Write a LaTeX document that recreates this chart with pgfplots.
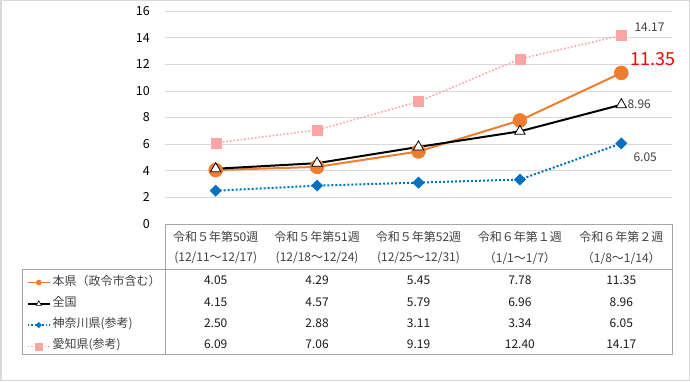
\documentclass[border=0pt]{standalone}
\usepackage{pgfplots}
\pgfplotsset{compat=1.18}
\usepackage{pgfplotstable}
\usepackage{fontspec}
\setmainfont{Noto Sans CJK JP}
\definecolor{cOrange}{HTML}{ED7D31}
\definecolor{cBlue}{HTML}{0070C0}
\definecolor{cPink}{HTML}{FBA5A5}
\definecolor{cGrid}{HTML}{D9D9D9}
\definecolor{cTab}{HTML}{A6A6A6}
\definecolor{cText}{HTML}{404040}

\pgfplotstableread{
x honken zenkoku kanagawa aichi
0 4.05 4.15 2.50 6.09
1 4.29 4.57 2.88 7.06
2 5.45 5.79 3.11 9.19
3 7.78 6.96 3.34 12.40
4 11.35 8.96 6.05 14.17
}\datatable

\begin{document}
\fontsize{12bp}{14bp}\selectfont
\begin{tikzpicture}[x=1bp,y=1bp]
\useasboundingbox (0,0) rectangle (690,381);
\draw[cGrid, line width=1.5bp] (0.75,0.75) rectangle (689.25,380.25);
\begin{axis}[
  at={(165bp,157bp)}, anchor=south west,
  scale only axis, width=507bp, height=213bp,
  xmin=-0.5, xmax=4.5, ymin=0, ymax=16,
  ytick={0,2,...,16}, xtick=\empty,
  ymajorgrids, grid style={cGrid, line width=0.75bp},
  axis line style={draw=none},
  major tick length=0pt,
  yticklabel style={inner sep=0pt, xshift=-15bp, font=\fontsize{12.5bp}{14bp}\selectfont, text=black},
  /pgf/number format/assume math mode=true,
  clip=false,
  legend cell align=left,
  legend style={at={(axis description cs:-0.2722,-0.2465)}, anchor=north west,
    draw=none, fill=none, inner sep=0pt, outer sep=0pt,
    row sep=9.3bp, column sep=2bp,
    font=\fontsize{12bp}{14bp}\selectfont, text=cText,
    nodes={inner sep=0pt, text height=8.5bp, text depth=3.5bp}},
  legend image code/.code={\draw[mark repeat=2,mark phase=2] plot coordinates {(0bp,0bp)(11bp,0bp)(22bp,0bp)};},
]
\addplot[forget plot, cOrange, line width=2bp, mark=*, mark size=7bp, mark options={fill=cOrange, line width=0.5bp}] table[x=x,y=honken]{\datatable};
\addplot[forget plot, black, line width=2bp, mark=triangle*, mark size=6bp, mark options={fill=white, line width=0.8bp}] table[x=x,y=zenkoku]{\datatable};
\addplot[forget plot, cBlue, line width=2bp, dotted, mark=square*, mark size=4bp, mark options={solid, rotate=45, fill=cBlue, line width=0.4bp}] table[x=x,y=kanagawa]{\datatable};
\addplot[forget plot, cPink, line width=1.6bp, dotted, mark=square*, mark size=5bp, mark options={solid, fill=cPink, line width=0.4bp}] table[x=x,y=aichi]{\datatable};

\addlegendimage{cOrange, line width=1.6bp, mark=*, mark size=2.6bp, mark options={fill=cOrange, line width=0.4bp}}
\addlegendentry{本県（政令市含む）}
\addlegendimage{black, line width=1.6bp, mark=triangle*, mark size=3bp, mark options={fill=white, line width=0.6bp}}
\addlegendentry{全国}
\addlegendimage{cBlue, line width=1.6bp, dotted, mark=square*, mark size=2bp, mark options={solid, rotate=45, fill=cBlue, line width=0.3bp}}
\addlegendentry{神奈川県(参考)}
\addlegendimage{cPink, line width=1.4bp, dotted, mark=square*, mark size=3.5bp, mark options={solid, fill=cPink, line width=0.3bp}}
\addlegendentry{愛知県(参考)}

\node[anchor=west, text=cText, xshift=9bp, yshift=8.5bp] at (axis cs:4,14.17) {14.17};
\node[anchor=west, text=red, xshift=5bp, yshift=14bp, font=\fontsize{18bp}{20bp}\selectfont] at (axis cs:4,11.35) {11.35};
\node[anchor=west, text=cText, xshift=6bp, inner sep=0pt] at (axis cs:4,8.96) {8.96};
\node[anchor=west, text=cText, xshift=8bp, yshift=-13.5bp] at (axis cs:4,6.05) {6.05};
\end{axis}

% table
\draw[cTab, line width=1bp] (165,157) -- (672,157) -- (672,27) -- (22,27) -- (22,112) -- (672,112);
\draw[cTab, line width=1bp] (165,157) -- (165,27);
\begin{scope}[every node/.style={text=cText}]
\node at (215.7,144) {令和５年第50週};
\node at (317.1,144) {令和５年第51週};
\node at (418.5,144) {令和５年第52週};
\node at (519.9,144) {令和６年第１週};
\node at (621.3,144) {令和６年第２週};
\node at (215.7,123) {(12/11～12/17)};
\node at (317.1,123) {(12/18～12/24)};
\node at (418.5,123) {(12/25～12/31)};
\node at (519.9,123) {（1/1～1/7）};
\node at (621.3,123) {（1/8～1/14）};
\end{scope}
\foreach \c/\yy in {honken/101,zenkoku/79,kanagawa/58,aichi/37}{
  \foreach \r in {0,...,4}{
    \pgfplotstablegetelem{\r}{\c}\of\datatable
    \node[text=black!90] at ({165+101.4*(\r+0.5)},\yy) {\pgfplotsretval};
  }
}
\end{tikzpicture}
\end{document}
